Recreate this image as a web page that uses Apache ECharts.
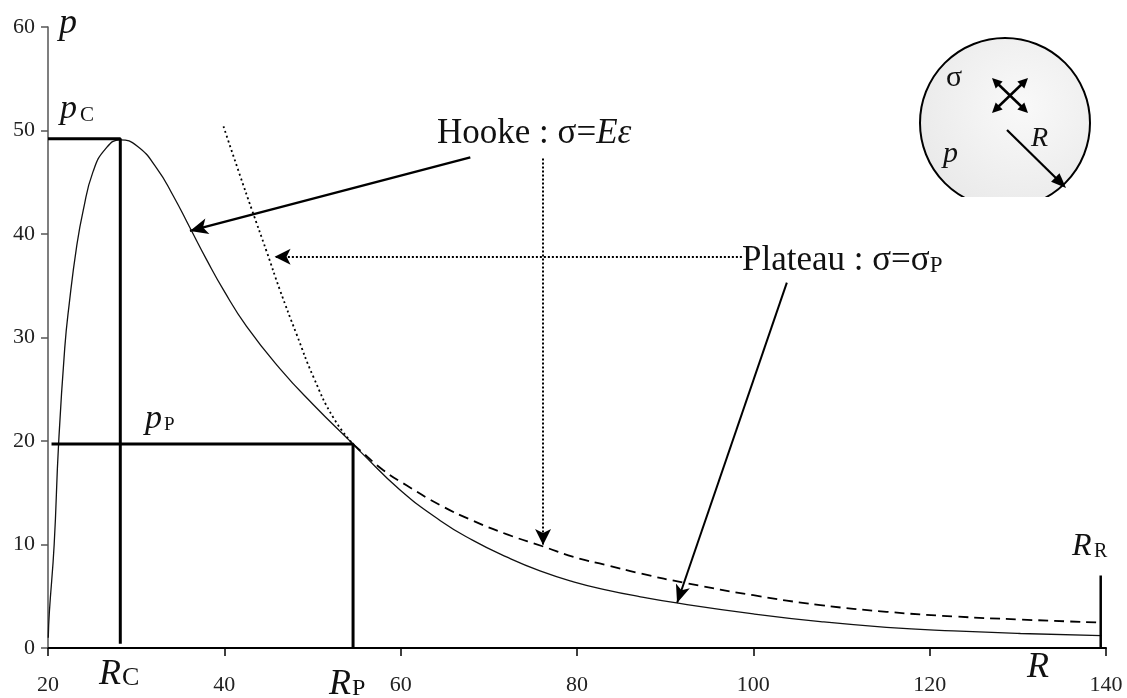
<!DOCTYPE html>
<html><head><meta charset="utf-8">
<script src="https://cdn.jsdelivr.net/npm/echarts@6/dist/echarts.min.js"></script>
<style>html,body{margin:0;padding:0;background:#fff}#c{width:1127px;height:698px}</style>
</head><body><div id="c"></div>
<script>
// ---- data (R, p) ----
const xTicks = [20, 40, 60, 80, 100, 120, 140];
const yTicks = [0, 10, 20, 30, 40, 50, 60];
const solidCurve = [[20.03,1.0],[20.15,3.4],[20.7,10.0],[21.2,19.7],[21.9,29.0],[22.4,33.2],[23.25,38.8],[24.0,42.3],[25.1,46.0],[26.5,48.2],[28.2,49.1],[30.1,48.5],[32.3,46.4],[34.2,43.7],[36.1,40.6],[38.0,37.5],[39.9,34.6],[42.5,31.1],[46.3,27.0],[50.1,23.5],[54.6,19.7],[55.4,19.0],[59.9,15.3],[64.5,12.3],[68.2,10.4],[72.0,8.8],[75.8,7.45],[79.6,6.4],[83.4,5.6],[87.2,4.95],[91.3,4.35],[100,3.3],[107.6,2.55],[115.1,2.0],[122.7,1.65],[130.3,1.4],[139.5,1.2]];
const dottedCurve = [[39.9,50.4],[41.8,45.6],[43.1,42.4],[44.8,38.3],[46.3,34.6],[48.2,30.3],[50.1,26.2],[52.4,22.2],[54.6,19.7]];
const dashedCurve = [[54.6,19.7],[55.4,19.1],[58.0,17.2],[60.7,15.7],[64.5,13.8],[68.2,12.3],[72.0,11.0],[76.2,9.8],[79.6,8.8],[83.4,8.0],[87.2,7.2],[92.5,6.25],[100,5.1],[107.6,4.15],[115.1,3.5],[122.7,3.05],[130.3,2.75],[139.5,2.45]];
const RC = 28.2, pC = 49.2, RP = 54.6, pP = 19.7, RR = 139.4, pRR = 7.0;
// annotation arrows: [fromR, fromP, toR, toP]
const hookeArrow = [67.9, 47.4, 36.1, 40.3];
const hookeDotV = [76.15, 47.3, 76.15, 9.95];
const hookeDotH = [98.7, 37.8, 45.7, 37.8];
const plateauArrow = [103.8, 35.3, 91.35, 4.35];

const SERIF = '"Liberation Serif","Times New Roman",serif';
const chart = echarts.init(document.getElementById('c'));

function arrowHead(tx, ty, fx, fy, len, half) {
  const dx = tx - fx, dy = ty - fy, L = Math.hypot(dx, dy);
  const ux = dx / L, uy = dy / L;
  const bx = tx - ux * len, by = ty - uy * len;
  return { type: 'polygon', z: 100, shape: { points: [[tx, ty], [bx - uy * half, by + ux * half], [bx + uy * half, by - ux * half]] }, style: { fill: '#000' } };
}
function txt(s, x, baseline, size, italic) {
  return { type: 'text', z: 100, style: { text: s, x: x, y: baseline - 0.34 * size, textVerticalAlign: 'middle', textAlign: 'left', fill: '#111', font: (italic ? 'italic ' : '') + size + 'px ' + SERIF } };
}
function seg(x1, y1, x2, y2, w) {
  return { type: 'line', z: 100, shape: { x1, y1, x2, y2 }, style: { stroke: '#000', lineWidth: w } };
}
function markArrow(a, type, width, size) {
  return [{ coord: [a[0], a[1]], symbol: 'none', lineStyle: { type: type, width: width, color: '#000' } },
          { coord: [a[2], a[3]], symbol: 'arrow', symbolSize: size }];
}

const graphics = [
  // inset circle
  { type: 'circle', z: 90, shape: { cx: 1005, cy: 123, r: 85 }, style: { fill: new echarts.graphic.RadialGradient(0.6, 0.4, 0.8, [{ offset: 0, color: '#f9f9f9' }, { offset: 1, color: '#e6e6e6' }]), stroke: '#000', lineWidth: 2 } },
  { type: 'rect', z: 91, shape: { x: 910, y: 197, width: 190, height: 20 }, style: { fill: '#fff' } },
  txt('σ', 946, 88, 30, false),
  txt('p', 943, 164, 30, true),
  txt('R', 1031, 148, 28, true),
  seg(1007, 130, 1060, 182, 2.2),
  arrowHead(1066, 188, 1007, 130, 15, 6),
  seg(997, 83, 1023, 108, 2.5),
  seg(1023, 83, 997, 108, 2.5),
  arrowHead(992, 78, 1010, 95.5, 10, 5),
  arrowHead(1028, 113, 1010, 95.5, 10, 5),
  arrowHead(1028, 78, 1010, 95.5, 10, 5),
  arrowHead(992, 113, 1010, 95.5, 10, 5),
  // labels
  txt('p', 59, 36, 36, true),
  txt('p', 60, 121, 34, true), txt('C', 80, 123, 21, false),
  txt('p', 145, 431, 34, true), txt('P', 164, 431, 19, false),
  txt('R', 99, 687, 36, true), txt('C', 122, 687, 26, false),
  txt('R', 329, 697, 36, true), txt('P', 352, 697, 24, false),
  txt('R', 1027, 680, 36, true),
  txt('R', 1072, 557, 32, true), txt('R', 1094, 559, 20, false),
  txt('Hooke : σ=', 437, 146, 35, false), txt('Eε', 0, 0, 35, true),
  txt('Plateau : σ=σ', 742, 273, 35, false), txt('P', 0, 0, 23, false)
];

const option = {
  animation: false,
  backgroundColor: '#fff',
  grid: { left: 48, right: 21, top: 27, bottom: 50, containLabel: false },
  xAxis: {
    type: 'value', min: xTicks[0], max: xTicks[xTicks.length - 1], interval: 20,
    axisLine: { lineStyle: { color: '#000', width: 2 } },
    axisTick: { length: 8, lineStyle: { color: '#000', width: 1.5 } },
    axisLabel: { margin: 26, fontSize: 22, color: '#222', fontFamily: SERIF },
    splitLine: { show: false }
  },
  yAxis: {
    type: 'value', min: yTicks[0], max: yTicks[yTicks.length - 1], interval: 10,
    axisLine: { show: true, lineStyle: { color: '#555', width: 1.5 } },
    axisTick: { show: true, length: 7, lineStyle: { color: '#555', width: 1.5 } },
    axisLabel: { margin: 13, fontSize: 22, color: '#222', fontFamily: SERIF },
    splitLine: { show: false }
  },
  series: [
    { type: 'line', data: solidCurve, smooth: 0.5, showSymbol: false, lineStyle: { color: '#111', width: 1.3 }, z: 5 },
    { type: 'line', data: dashedCurve, smooth: 0.5, showSymbol: false, lineStyle: { color: '#000', width: 1.8, type: [10, 6] }, z: 5 },
    { type: 'line', data: dottedCurve, smooth: 0.5, showSymbol: false, lineStyle: { color: '#000', width: 1.8, type: [2, 3] }, z: 5 },
    { type: 'line', data: [[20, pC], [RC, pC], [RC, 0.4]], showSymbol: false, lineStyle: { color: '#000', width: 3 }, z: 6 },
    { type: 'line', data: [[20.4, pP], [RP, pP], [RP, 0]], showSymbol: false, lineStyle: { color: '#000', width: 3 }, z: 6 },
    { type: 'line', data: [[RR, 0], [RR, pRR]], showSymbol: false, lineStyle: { color: '#000', width: 2.5 }, z: 6 },
    { type: 'line', data: [], z: 7,
      markLine: { silent: true, animation: false, label: { show: false }, symbol: ['none', 'arrow'],
        data: [
          markArrow(hookeArrow, 'solid', 2.5, [12, 18]),
          markArrow(hookeDotV, [2, 2], 2, [12, 16]),
          markArrow(hookeDotH, [2, 2], 2, [12, 16]),
          markArrow(plateauArrow, 'solid', 2, [11, 18])
        ] } }
  ],
  graphic: graphics
};
chart.setOption(option);

// place italic / subscript parts right after the upright text runs
function measure(s, font) { const c = document.createElement('canvas').getContext('2d'); c.font = font; return c.measureText(s).width; }
const gr = option.graphic;
const hk = gr[gr.length - 4], hkE = gr[gr.length - 3];
hkE.style.x = hk.style.x + measure(hk.style.text, hk.style.font);
hkE.style.y = hk.style.y;
const pl = gr[gr.length - 2], plP = gr[gr.length - 1];
plP.style.x = pl.style.x + measure(pl.style.text, pl.style.font);
plP.style.y = pl.style.y + 5;
chart.setOption({ graphic: gr }, { replaceMerge: ['graphic'] });
</script></body></html>
